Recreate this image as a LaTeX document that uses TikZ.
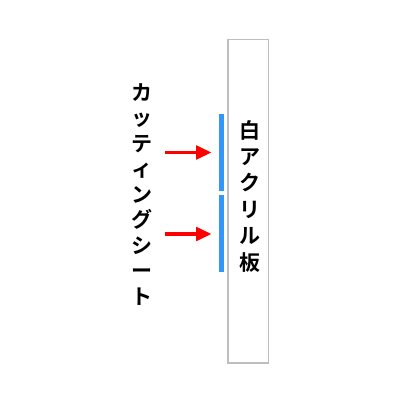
\documentclass[tikz,border=0pt]{standalone}
\usepackage{fontspec}
\newfontfamily\jp{Noto Sans CJK JP Bold}
\usetikzlibrary{arrows.meta}
\definecolor{bluebar}{RGB}{51,150,250}
\definecolor{boxgray}{RGB}{190,190,190}
\tikzset{
  jchar/.style={font=\jp\fontsize{21}{21}\selectfont, inner sep=0pt, anchor=base},
  bar/.style={fill=bluebar, draw=none, minimum width=5pt, inner sep=0pt},
  arr/.style={draw=red, line width=3.5pt, -{Triangle[length=15.5pt,width=13.5pt]}, shorten >=7.5pt}
}
\begin{document}
\begin{tikzpicture}[x=1pt,y=-1pt]
\useasboundingbox (0,0) rectangle (400,400);
\node[draw=boxgray, line width=1.5pt, minimum width=40.5pt, minimum height=323.5pt, inner sep=0pt] (plate) at (248.3,201) {};
\node[bar, minimum height=76.7pt] (bar1) at (221.8,152.3) {};
\node[bar, minimum height=77pt] (bar2) at (221.8,233.5) {};
\coordinate (s1) at (165,152.5);
\coordinate (s2) at (165,234);
\draw[arr] (s1) -- (s1 -| bar1.west);
\draw[arr] (s2) -- (s2 -| bar2.west);
\foreach \c [count=\i] in {カ,ッ,テ,ィ,ン,グ,シ,ー,ト}
  \node[jchar] (L\i) at (141.7,{92+25.5*(\i-1)+8}) {\c};
\foreach \c [count=\i] in {白,ア,ク,リ,ル,板}
  \node[jchar] (R\i) at (250,{130+26.4*(\i-1)+8}) {\c};
\end{tikzpicture}
\end{document}
